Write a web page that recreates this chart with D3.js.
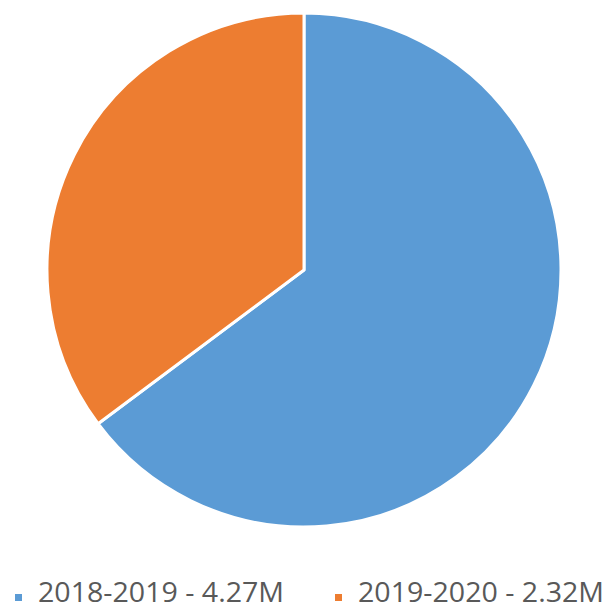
<!DOCTYPE html>
<html>
<head>
<meta charset="utf-8">
<script src="https://cdn.jsdelivr.net/npm/d3@7"></script>
<style>
  body { margin: 0; background: #fff; }
  svg { display: block; }
</style>
</head>
<body>
<svg width="613" height="612"></svg>
<script>
// season totals (millions)
var seasons = ['2018-2019', '2019-2020'];
var totals = [4.27, 2.32];
var labels = ['4.27M', '2.32M'];
var colors = ['#5b9bd5', '#ed7d31'];

var width = 613;
var height = 612;
var cx = 304, cy = 270, r = 257;

var svg = d3.select('svg');

var data = seasons.map((s, i) => ({season: s, value: totals[i], label: labels[i], color: colors[i]}));

var pie = d3.pie()
  .sort(null)
  .value(d => d.value);

var arc = d3.arc()
  .innerRadius(0)
  .outerRadius(r);

var g = svg.append('g')
  .attr('transform', 'translate(' + cx + ',' + cy + ')');

g.selectAll('path')
  .data(pie(data))
  .enter()
  .append('path')
  .attr('d', arc)
  .attr('fill', d => d.data.color)
  .attr('stroke', '#fff')
  .attr('stroke-width', 3)
  .attr('stroke-linejoin', 'round');

// legend
var legendX = d3.scaleOrdinal()
  .domain(seasons)
  .range([15, 335]);

var legend = svg.selectAll('.legend')
  .data(data)
  .enter()
  .append('g')
  .attr('class', 'legend')
  .attr('transform', d => 'translate(' + legendX(d.season) + ',602)');

legend.append('rect')
  .attr('x', 0)
  .attr('y', -8)
  .attr('width', 7)
  .attr('height', 7)
  .attr('fill', d => d.color);

legend.append('text')
  .attr('x', 23)
  .attr('y', 0)
  .attr('font-family', 'Open Sans, sans-serif')
  .attr('font-size', 27)
  .attr('fill', '#595959')
  .attr('textLength', 246)
  .attr('lengthAdjust', 'spacingAndGlyphs')
  .text(d => d.season + ' - ' + d.label);
</script>
</body>
</html>
